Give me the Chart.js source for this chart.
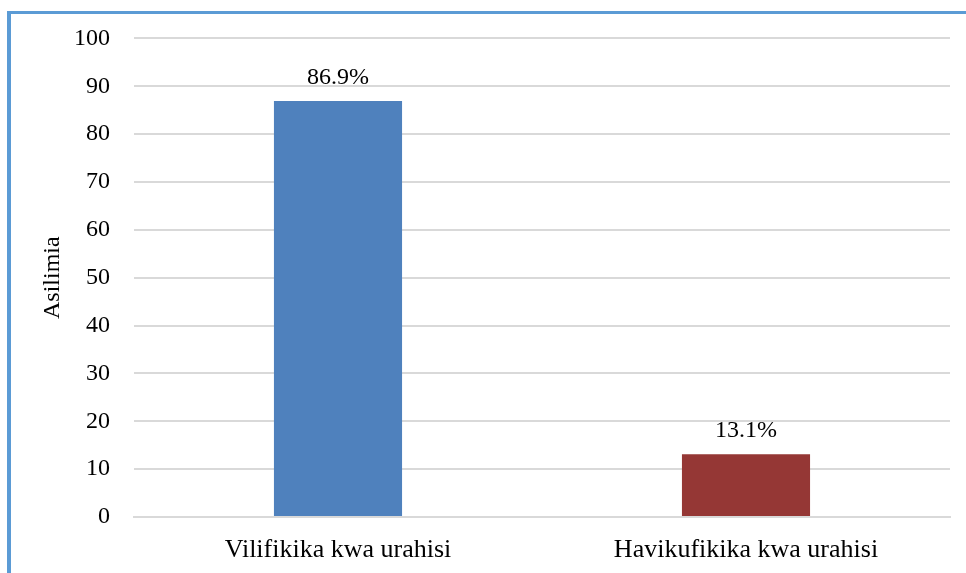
<!DOCTYPE html>
<html>
<head>
<meta charset="utf-8">
<script src="https://cdn.jsdelivr.net/npm/chart.js@4"></script>
<style>
  html, body { margin: 0; padding: 0; background: #fff; overflow: hidden; }
  #frame {
    position: absolute; left: 7px; top: 11px; width: 1000px; height: 600px;
    border-left: 4px solid #5B9BD5; border-top: 3px solid #5B9BD5;
  }
  #wrap { position: absolute; left: 0; top: 0; width: 966px; height: 573px; }
</style>
</head>
<body>
<div id="frame"></div>
<div id="wrap"><canvas id="chart" width="966" height="573"></canvas></div>
<script>
const categories = ["Vilifikika kwa urahisi", "Havikufikika kwa urahisi"];
const values = [86.9, 13.1];
const barColors = ["#4F81BD", "#953735"];
const yTicks = [0, 10, 20, 30, 40, 50, 60, 70, 80, 90, 100];

const serif = "'Liberation Serif', 'Times New Roman', serif";

// draw the percentage above each bar
const valueLabels = {
  id: "valueLabels",
  afterDatasetsDraw(chart) {
    const ctx = chart.ctx;
    const meta = chart.getDatasetMeta(0);
    ctx.save();
    ctx.font = "24px " + serif;
    ctx.fillStyle = "#000";
    ctx.textAlign = "center";
    ctx.textBaseline = "alphabetic";
    meta.data.forEach((bar, i) => {
      ctx.fillText(values[i].toFixed(1) + "%", bar.x, bar.y - 17);
    });
    ctx.restore();
  }
};

new Chart(document.getElementById("chart").getContext("2d"), {
  type: "bar",
  data: {
    labels: categories,
    datasets: [{
      data: values,
      backgroundColor: barColors,
      categoryPercentage: 1,
      barPercentage: 0.314
    }]
  },
  options: {
    responsive: false,
    animation: false,
    layout: { padding: { top: 38, right: 16, bottom: 0, left: 0 } },
    plugins: { legend: { display: false }, tooltip: { enabled: false } },
    scales: {
      x: {
        grid: { display: false, drawTicks: false },
        border: { display: true, color: "#D9D9D9", width: 2 },
        ticks: { color: "#000", font: { family: serif, size: 26 }, padding: 18, maxRotation: 0 },
        afterFit(scale) { scale.height = 56; }
      },
      y: {
        min: 0, max: 100,
        afterBuildTicks(scale) { scale.ticks = yTicks.map(v => ({ value: v })); },
        grid: { color: "#D9D9D9", lineWidth: 2, drawTicks: false },
        border: { display: false },
        ticks: { color: "#000", font: { family: serif, size: 24 }, padding: 24 },
        title: {
          display: true, text: "Asilimia", color: "#000",
          font: { family: serif, size: 24 }, padding: { top: 38, bottom: 0 }
        },
        afterFit(scale) { scale.width = 134; }
      }
    }
  },
  plugins: [valueLabels]
});
</script>
</body>
</html>
